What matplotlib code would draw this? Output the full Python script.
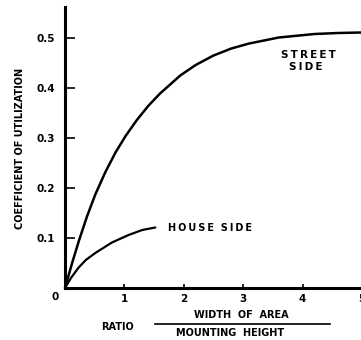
import matplotlib
matplotlib.use("Agg")
import matplotlib.pyplot as plt
from matplotlib.lines import Line2D

street_x = [0, 0.12, 0.23, 0.37, 0.51, 0.68, 0.85, 1.02, 1.21, 1.4, 1.6, 1.94, 2.2, 2.5, 2.8, 3.1, 3.6, 4.2, 4.6, 5.0]
street_y = [0, 0.05, 0.093, 0.143, 0.187, 0.232, 0.271, 0.304, 0.336, 0.364, 0.389, 0.425, 0.446, 0.465, 0.479, 0.489, 0.501, 0.508, 0.510, 0.511]
house_x = [0, 0.1, 0.23, 0.35, 0.51, 0.79, 1.07, 1.3, 1.52]
house_y = [0, 0.02, 0.041, 0.056, 0.07, 0.091, 0.106, 0.116, 0.121]
xticks = [1, 2, 3, 4, 5]
xtick_labels = ["1", "2", "3", "4", "5"]
yticks = [0.1, 0.2, 0.3, 0.4, 0.5]
ytick_labels = ["0.1", "0.2", "0.3", "0.4", "0.5"]

W, H = 361, 340
fig = plt.figure(figsize=(W / 100, H / 100), dpi=100)
x0, y0 = 65, 288
x5 = 362
ytop = 7
ax = fig.add_axes([x0 / W, 1 - y0 / H, (x5 - x0) / W, (y0 - ytop) / H])
ax.set_xlim(0, 5)
ax.set_ylim(0, 0.562)
ax.patch.set_alpha(0)
for s in ["top", "right"]:
    ax.spines[s].set_visible(False)
ax.spines["left"].set_linewidth(2.2)
ax.spines["bottom"].set_linewidth(2.2)

ax.plot(street_x, street_y, color="black", lw=1.8, clip_on=False,
        solid_capstyle="round", solid_joinstyle="round")
ax.plot(house_x, house_y, color="black", lw=1.6, clip_on=False,
        solid_capstyle="round", solid_joinstyle="round")

ax.set_xticks(xticks)
ax.set_xticklabels(xtick_labels)
ax.set_yticks(yticks)
ax.set_yticklabels(ytick_labels)
ax.tick_params(axis="y", direction="in", length=7, width=1.2, pad=7, labelsize=7.5)
ax.tick_params(axis="x", direction="in", length=3, width=1.2, pad=4, labelsize=7.5)
for lab in ax.get_xticklabels() + ax.get_yticklabels():
    lab.set_fontweight("bold")

fig.text(55 / W, 1 - 297 / H, "0", ha="center", va="center", fontsize=7.5, fontweight="bold")

fig.text(20 / W, 1 - 148 / H, "COEFFICIENT OF UTILIZATION", rotation=90,
         ha="center", va="center", fontsize=7, fontweight="bold")

fig.text(308 / W, 1 - 55 / H, "S\u2009T\u2009R\u2009E\u2009E\u2009T", ha="center", va="center",
         fontsize=7.5, fontweight="bold")
fig.text(306 / W, 1 - 67.5 / H, "S\u2009I\u2009D\u2009E", ha="center", va="center",
         fontsize=7.5, fontweight="bold")
fig.text(168 / W, 1 - 228 / H, "H\u2009O\u2009U\u2009S\u2009E  S\u2009I\u2009D\u2009E", ha="left", va="center",
         fontsize=7, fontweight="bold")

fig.text(117 / W, 1 - 327 / H, "RATIO", ha="center", va="center", fontsize=7, fontweight="bold")
fig.text(241 / W, 1 - 315 / H, "WIDTH  OF  AREA", ha="center", va="center", fontsize=7, fontweight="bold")
fig.text(230 / W, 1 - 333 / H, "MOUNTING  HEIGHT", ha="center", va="center", fontsize=7, fontweight="bold")
fig.add_artist(Line2D([155 / W, 330 / W], [1 - 324 / H, 1 - 324 / H], color="black", lw=1.2,
                      transform=fig.transFigure))

fig.savefig("out.png", dpi=100)
